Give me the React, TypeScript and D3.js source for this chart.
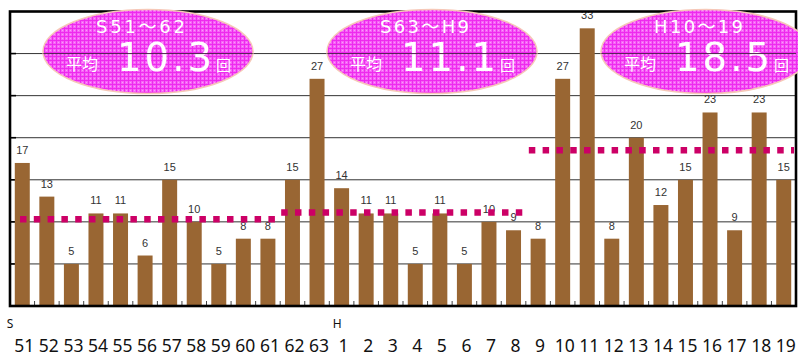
import React from "react";
import * as d3 from "d3";

// Yearly counts, Showa 51 through Heisei 19
const eraMarks = ["S", "", "", "", "", "", "", "", "", "", "", "", "", "H", "", "", "", "", "", "", "", "", "", "", "", "", "", "", "", "", "", ""];
const yearLabels = ["51", "52", "53", "54", "55", "56", "57", "58", "59", "60", "61", "62", "63", "1", "2", "3", "4", "5", "6", "7", "8", "9", "10", "11", "12", "13", "14", "15", "16", "17", "18", "19"];
const counts = [17, 13, 5, 11, 11, 6, 15, 10, 5, 8, 8, 15, 27, 14, 11, 11, 5, 11, 5, 10, 9, 8, 27, 33, 8, 20, 12, 15, 23, 9, 23, 15];

// Period averages: label, average, first/last index of the dotted average line
const periodLabels = ["S51～62", "S63～H9", "H10～19"];
const periodAverages = [10.3, 11.1, 18.5];
const periodStart = [0, 11, 21];
const periodEnd = [11, 21, 32];

const yTicks = [5, 10, 15, 20, 25, 30];

const W = 798;
const H = 355;
const left = 10;
const right = 796;
const top = 11.5;
const bottom = 306;

const latin = "'DejaVu Sans', 'Noto Sans CJK JP', sans-serif";
const axisFont = "'Noto Sans', 'DejaVu Sans', sans-serif";
const cjk = "'Noto Sans CJK JP', sans-serif";

export default function App() {
  const idx = counts.map((_, i) => i);
  const x = d3.scaleBand<number>().domain(idx).range([left, right]).paddingInner(0.39).paddingOuter(0.195);
  const step = x.step();
  const bandStart = (i: number) => left + i * step;
  const y = d3.scaleLinear().domain([0, 35]).range([bottom, top]);

  const ellipseCx = [148, 432, 706];
  const ellipseCy = 51.5;
  const rx = 105;
  const ry = 42;

  const lineStartPad = [10, 1, 3];
  const lineEndPad = [0, -2, 0];

  return (
    <svg width={W} height={H} style={{ position: "absolute", left: 0, top: 0 }}>
      <defs>
        <pattern id="pinkGrid" width={4} height={4} patternUnits="userSpaceOnUse">
          <rect width={4} height={4} fill="#f664f6" />
          <rect width={4} height={1} fill="#ee2aee" />
          <rect width={1} height={4} fill="#ee2aee" />
          <rect x={2} y={2} width={1} height={1} fill="#fb9cfb" />
        </pattern>
        <clipPath id="ovals">
          {ellipseCx.map((cx, i) => (
            <ellipse key={i} cx={cx} cy={ellipseCy} rx={rx} ry={ry} />
          ))}
        </clipPath>
      </defs>
      <rect width={W} height={H} fill="#fff" />

      {/* horizontal grid */}
      {yTicks.map((t) => (
        <line key={t} x1={left} x2={right} y1={y(t)} y2={y(t)} stroke="#333" strokeWidth={1} />
      ))}
      {yTicks.map((t) => (
        <line key={"lt" + t} x1={left} x2={left + 6} y1={y(t)} y2={y(t)} stroke="#000" strokeWidth={1.6} />
      ))}

      {/* bars */}
      {counts.map((v, i) => (
        <rect key={i} x={x(i)} y={y(v)} width={x.bandwidth()} height={bottom - y(v)} fill="#996633" />
      ))}

      {/* value labels */}
      {counts.map((v, i) => (
        <text
          key={"v" + i}
          x={(x(i) as number) + x.bandwidth() / 2}
          y={y(v) - 9}
          textAnchor="middle"
          fontFamily="'Liberation Sans', Arial, sans-serif"
          fontSize={11}
          fill="#333"
        >
          {v}
        </text>
      ))}

      {/* tick marks between categories */}
      {idx.slice(1).map((i) => (
        <line key={"tk" + i} x1={bandStart(i)} x2={bandStart(i)} y1={bottom - 5} y2={bottom} stroke="#444" strokeWidth={1} />
      ))}

      {/* frame */}
      <rect x={left} y={top} width={right - left} height={bottom - top} fill="none" stroke="#000" strokeWidth={2.6} />

      {/* category labels */}
      {eraMarks.map((m, i) =>
        m ? (
          <text key={"e" + i} x={i === 0 ? bandStart(i) : bandStart(i) + 8} y={328} textAnchor="middle" fontFamily={axisFont} fontSize={12} fill="#111">
            {m}
          </text>
        ) : null
      )}
      {yearLabels.map((l, i) => (
        <text key={"c" + i} x={(x(i) as number) + x.bandwidth() / 2 + 2} y={351.5} textAnchor="middle" fontFamily={axisFont} fontSize={17.5} fill="#111">
          {l}
        </text>
      ))}

      {/* period average badges */}
      {ellipseCx.map((cx, i) => (
        <g key={"b" + i}>
          <ellipse cx={cx} cy={ellipseCy} rx={rx} ry={ry} fill="url(#pinkGrid)" stroke="#f6c8b8" strokeWidth={1.5} />
          <text x={cx - 52} y={33} fontFamily={latin} fontSize={18} fill="#fff" textLength={89} lengthAdjust="spacing">
            {periodLabels[i]}
          </text>
          <text x={cx - 82} y={70} fontFamily={cjk} fontSize={16} fill="#fff">
            平均
          </text>
          <text x={cx - 31} y={71} fontFamily={latin} fontSize={38.5} fill="#fff" textLength={95} lengthAdjust="spacing">
            {periodAverages[i].toFixed(1)}
          </text>
          <text x={cx + 68} y={70.5} fontFamily={cjk} fontSize={15} fill="#fff">
            回
          </text>
        </g>
      ))}
      <g clipPath="url(#ovals)">
        <line x1={left} x2={right} y1={y(30)} y2={y(30)} stroke="#502050" strokeWidth={1} />
      </g>

      {/* dotted average lines */}
      {periodAverages.map((a, i) => (
        <line
          key={"a" + i}
          x1={bandStart(periodStart[i]) + lineStartPad[i]}
          x2={Math.min(bandStart(periodEnd[i]) + lineEndPad[i], right - 2)}
          y1={y(a)}
          y2={y(a)}
          stroke="#cc0066"
          strokeWidth={6.5}
          strokeDasharray="6.5 7.3"
        />
      ))}
    </svg>
  );
}
